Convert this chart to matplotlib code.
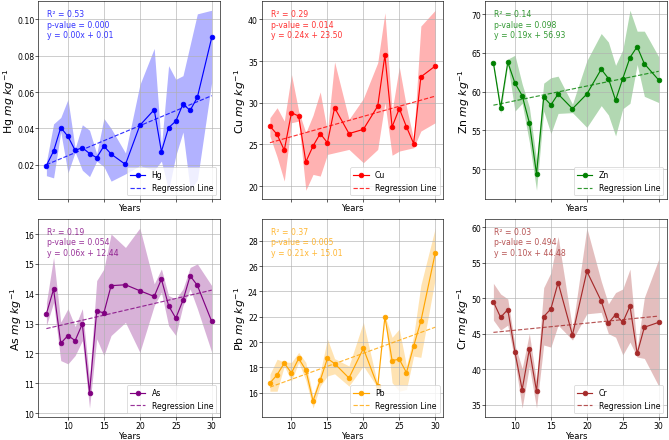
"""
重金属随年份变化趋势 + 线性回归 (2x3 子图)
"""
import matplotlib
matplotlib.use("Agg")
import matplotlib.pyplot as plt

plt.rcParams["font.family"] = ["DejaVu Sans"]

YEARS = [7, 8, 9, 10, 11, 12, 13, 14, 15, 16, 18, 20, 22, 23, 24, 25, 26, 27, 28, 30]

METALS = ["Hg", "Cu", "Zn", "As", "Pb", "Cr"]
COLORS = ["blue", "red", "green", "purple", "orange", "brown"]

# 均值
HG = [0.0196, 0.0275, 0.0405, 0.0356, 0.0279, 0.0294, 0.0262, 0.0239, 0.0303, 0.0259,
      0.0202, 0.0417, 0.0503, 0.0273, 0.0404, 0.0440, 0.0534, 0.0499, 0.0571, 0.0900]
CU = [27.2, 26.2, 24.3, 28.8, 28.4, 22.9, 24.8, 26.3, 25.2, 29.4,
      26.3, 26.8, 29.6, 35.7, 27.1, 29.3, 27.1, 25.1, 33.1, 34.4]
ZN = [63.7, 57.9, 63.8, 61.1, 59.5, 56.0, 49.4, 59.3, 58.3, 59.7,
      57.8, 59.7, 62.9, 61.7, 58.9, 61.7, 64.4, 65.8, 63.6, 61.5]
AS = [13.33, 14.15, 12.34, 12.60, 12.43, 12.99, 10.68, 13.42, 13.36, 14.27,
      14.30, 14.10, 13.91, 14.49, 13.60, 13.18, 13.78, 14.60, 14.28, 13.07]
PB = [16.77, 17.43, 18.34, 17.57, 18.71, 17.80, 15.36, 16.98, 18.71, 18.31,
      17.17, 19.50, 16.53, 22.00, 18.55, 18.65, 17.59, 19.69, 21.65, 27.02]
CR = [49.5, 47.3, 48.4, 42.4, 37.1, 42.8, 36.9, 47.4, 48.5, 52.2,
      44.8, 53.8, 49.6, 46.5, 47.7, 46.6, 48.9, 42.2, 45.9, 46.6]

# 阴影带 下界 / 上界
HG_LO = [0.0140, 0.0128, 0.0380, 0.0155, 0.0270, 0.0170, 0.0135, 0.0220, 0.0190, 0.0110,
         0.0150, 0.0195, 0.0170, 0.0220, 0.0060, 0.0250, 0.0380, 0.0065, 0.0115, 0.0655]
HG_HI = [0.0215, 0.0425, 0.0460, 0.0560, 0.0290, 0.0420, 0.0390, 0.0260, 0.0455, 0.0400,
         0.0265, 0.0640, 0.0840, 0.0300, 0.0745, 0.0670, 0.0690, 0.0860, 0.1030, 0.1050]
CU_LO = [26.0, 23.5, 20.6, 27.6, 27.8, 19.5, 21.4, 21.2, 23.8, 24.0,
         24.4, 22.8, 24.4, 30.0, 23.7, 24.2, 24.4, 24.6, 26.6, 27.6]
CU_HI = [28.2, 29.4, 27.8, 33.4, 29.0, 26.4, 28.5, 31.3, 26.5, 34.9,
         28.0, 30.5, 34.8, 40.8, 29.0, 34.3, 29.5, 25.6, 39.2, 41.1]
ZN_LO = [63.5, 57.2, 63.5, 57.5, 58.5, 53.5, 47.3, 57.5, 54.6, 57.2,
         57.3, 55.4, 58.2, 57.0, 54.3, 57.8, 58.5, 63.5, 59.4, 58.6]
ZN_HI = [63.9, 58.4, 64.2, 64.7, 61.0, 58.0, 51.2, 61.1, 61.8, 62.0,
         58.4, 64.0, 67.5, 66.4, 63.4, 65.4, 70.5, 67.8, 67.8, 64.5]
AS_LO = [12.93, 13.70, 11.76, 11.65, 11.93, 12.43, 10.17, 12.49, 11.93, 12.60,
         13.04, 12.04, 13.60, 14.05, 12.93, 12.60, 13.60, 14.16, 13.50, 12.04]
AS_HI = [13.70, 15.22, 13.05, 13.50, 12.90, 13.50, 11.15, 14.44, 14.83, 16.00,
         15.55, 16.20, 14.33, 14.83, 13.94, 13.82, 14.16, 14.88, 15.00, 14.27]
PB_LO = [16.13, 16.13, 18.12, 16.93, 18.40, 17.00, 14.80, 16.53, 17.33, 17.50,
         16.53, 18.12, 16.40, 21.90, 16.80, 16.13, 16.27, 18.90, 18.80, 25.00]
PB_HI = [17.46, 18.65, 18.44, 18.40, 19.19, 18.40, 15.73, 17.60, 20.25, 18.70,
         18.12, 21.57, 16.65, 22.10, 20.38, 21.04, 18.12, 20.50, 24.50, 29.00]
CR_LO = [46.9, 45.5, 46.2, 41.1, 34.5, 40.4, 34.5, 43.4, 43.1, 46.2,
         44.1, 47.8, 48.0, 45.0, 44.5, 42.0, 43.8, 41.7, 41.5, 37.6]
CR_HI = [52.1, 50.6, 49.9, 43.4, 40.1, 45.0, 38.3, 51.5, 53.6, 58.7,
         45.7, 59.9, 52.4, 49.2, 50.8, 51.3, 54.1, 42.9, 50.1, 55.5]

# 回归结果: R², p, 斜率, 截距
R2 = [0.53, 0.29, 0.14, 0.19, 0.37, 0.03]
PVAL = [0.000, 0.014, 0.098, 0.054, 0.005, 0.494]
SLOPE = [0.00165, 0.243, 0.19, 0.056, 0.2056, 0.10]
INTERCEPT = [0.0085, 23.50, 56.93, 12.44, 15.01, 44.48]

MEANS = [HG, CU, ZN, AS, PB, CR]
LOWS = [HG_LO, CU_LO, ZN_LO, AS_LO, PB_LO, CR_LO]
HIGHS = [HG_HI, CU_HI, ZN_HI, AS_HI, PB_HI, CR_HI]


def panel(ax, i):
    name, color = METALS[i], COLORS[i]
    ax.fill_between(YEARS, LOWS[i], HIGHS[i], color=color, alpha=0.3, linewidth=0)
    ax.plot(YEARS, MEANS[i], marker="o", color=color, label=name)
    xr = [YEARS[0], YEARS[-1]]
    ax.plot(xr, [SLOPE[i] * x + INTERCEPT[i] for x in xr], "--", color=color,
            alpha=0.8, label="Regression Line")
    txt = "R\u00b2 = {:.2f}\np-value = {:.3f}\ny = {:.2f}x + {:.2f}".format(
        R2[i], PVAL[i], SLOPE[i], INTERCEPT[i])
    ax.text(0.05, 0.96, txt, transform=ax.transAxes, color=color,
            fontsize=10, va="top", alpha=0.8)
    ax.set_xlabel("Years", fontsize=11, labelpad=1)
    ax.set_ylabel(name + r" $mg\ kg^{-1}$", fontsize=14, labelpad=0)
    ax.tick_params(labelsize=10, pad=1.5)
    ax.grid(True)
    ax.legend(loc="lower right", fontsize=10)


def main():
    fig, axes = plt.subplots(2, 3, figsize=(12, 7.91), dpi=55.75, sharex=True)
    for i, ax in enumerate(axes.flat):
        panel(ax, i)
    for ax in axes[0]:
        ax.tick_params(labelbottom=False)
    axes[1][0].set_xticks([10, 15, 20, 25, 30])
    fig.subplots_adjust(left=0.057, right=0.997, top=0.995, bottom=0.052,
                        wspace=0.229, hspace=0.10)
    fig.savefig("out.png", dpi=55.75)
    plt.close(fig)


if __name__ == "__main__":
    main()
